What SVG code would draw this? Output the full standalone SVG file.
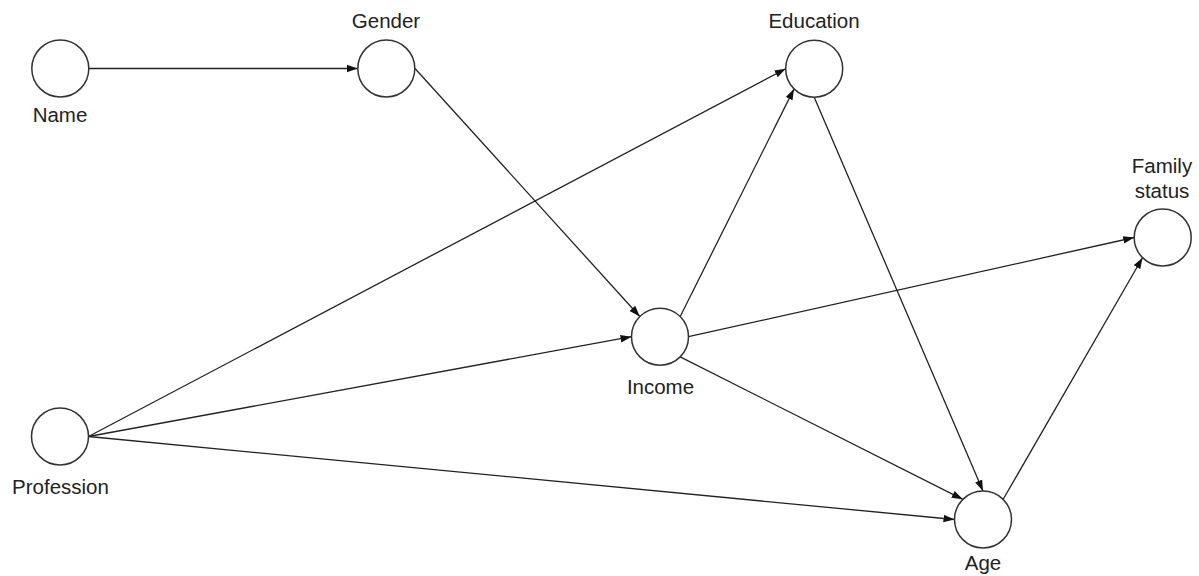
<svg xmlns="http://www.w3.org/2000/svg" width="1199" height="576" viewBox="0 0 1199 576">
<defs>
<marker id="arr" markerUnits="userSpaceOnUse" markerWidth="12" markerHeight="10" viewBox="0 0 12 10" refX="11" refY="5" orient="auto">
<path d="M0,1.2 L11,5 L0,8.8 Z" fill="#111"/>
</marker>
<style>
.node circle{fill:#fff;stroke:#333;stroke-width:1.5}
.lbl{font-family:"Liberation Sans",Arial,sans-serif;font-size:20.5px;fill:#222;text-anchor:middle}
.edges line{stroke:#222;stroke-width:1.3;fill:none}
.edges line.a{marker-end:url(#arr)}
</style>
</defs>
<rect width="1199" height="576" fill="#fff"/>
<g class="edges" id="connectors">
<line class="a" x1="89" y1="68.5" x2="357.5" y2="68.5"/>
<line class="a" x1="415" y1="68.5" x2="639.8" y2="316.5"/>
<line class="a" x1="88.5" y1="436.5" x2="785.7" y2="68.7"/>
<line class="a" x1="680.2" y1="316.5" x2="794" y2="88.9"/>
<line class="a" x1="814.2" y1="97.2" x2="983" y2="491"/>
<line class="a" x1="88.5" y1="436.5" x2="631.5" y2="336.7"/>
<line class="a" x1="688.5" y1="336.7" x2="1134.2" y2="237.5"/>
<line class="a" x1="680.2" y1="356.9" x2="962.8" y2="499.3"/>
<line class="a" x1="88.5" y1="436.5" x2="954.5" y2="519.5"/>
<line class="a" x1="1003.2" y1="499.3" x2="1142.5" y2="257.7"/>
</g>
<g class="node" id="name"><circle cx="60.3" cy="68.5" r="28.5"/><text class="lbl" x="60" y="122">Name</text></g>
<g class="node" id="gender"><circle cx="386.3" cy="68.5" r="28.5"/><text class="lbl" x="386" y="27.5">Gender</text></g>
<g class="node" id="education"><circle cx="814.2" cy="68.7" r="28.5"/><text class="lbl" x="814" y="27.5">Education</text></g>
<g class="node" id="family-status"><circle cx="1162.7" cy="237.5" r="28.5"/><text class="lbl" x="1162" y="172.5">Family</text><text class="lbl" x="1162" y="197.5">status</text></g>
<g class="node" id="income"><circle cx="660" cy="336.7" r="28.5"/><text class="lbl" x="660.5" y="393.5">Income</text></g>
<g class="node" id="profession"><circle cx="60" cy="436.5" r="28.5"/><text class="lbl" x="60.5" y="494">Profession</text></g>
<g class="node" id="age"><circle cx="983" cy="519.5" r="28.5"/><text class="lbl" x="983" y="570">Age</text></g>
</svg>
